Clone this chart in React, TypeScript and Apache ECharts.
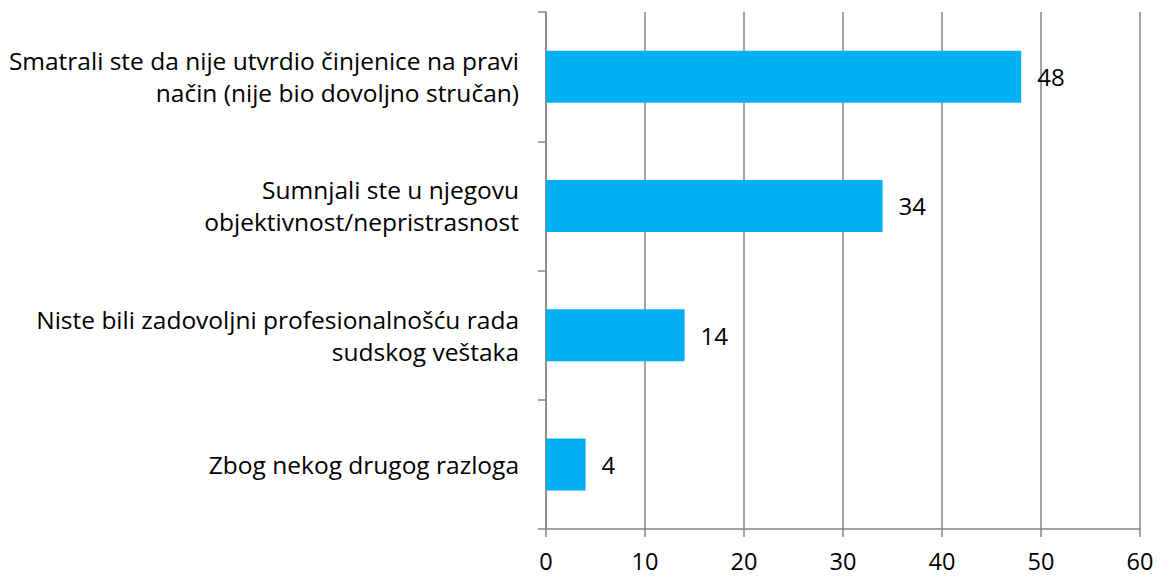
import React, { useEffect, useRef } from "react";
import * as echarts from "echarts";

const categories = [
  "Smatrali ste da nije utvrdio činjenice na pravi\nnačin (nije bio dovoljno stručan)",
  "Sumnjali ste u njegovu\nobjektivnost/nepristrasnost",
  "Niste bili zadovoljni profesionalnošću rada\nsudskog veštaka",
  "Zbog nekog drugog razloga",
];
const values = [48, 34, 14, 4];
const xTicks = [0, 10, 20, 30, 40, 50, 60];

export default function App() {
  const ref = useRef<HTMLDivElement>(null);
  useEffect(() => {
    const chart = echarts.init(ref.current!, null, { renderer: "svg" });
    const font = "'Open Sans', sans-serif";
    chart.setOption({
      animation: false,
      grid: { left: 546, right: 21, top: 12, bottom: 47, containLabel: false },
      xAxis: {
        type: "value",
        min: xTicks[0],
        max: xTicks[xTicks.length - 1],
        interval: 10,
        axisLine: { show: true, lineStyle: { color: "#868686", width: 1.5 } },
        axisTick: { show: true, length: 8, lineStyle: { color: "#868686", width: 1.5 } },
        axisLabel: { color: "#000", fontSize: 23.5, fontFamily: font, margin: 21, lineHeight: 22 },
        splitLine: { show: true, lineStyle: { color: "#868686", width: 1.5 } },
      },
      yAxis: {
        type: "category",
        data: categories,
        inverse: true,
        axisLine: { show: true, lineStyle: { color: "#868686", width: 1.5 } },
        axisTick: { show: true, length: 8, alignWithLabel: false, lineStyle: { color: "#868686", width: 1.5 } },
        axisLabel: {
          color: "#000",
          fontSize: 24.5,
          fontFamily: font,
          margin: 27,
          lineHeight: 32,
          align: "right",
        },
      },
      series: [
        {
          type: "bar",
          data: values,
          barWidth: 52,
          itemStyle: { color: "#00B0F0" },
          label: {
            show: true,
            position: "right",
            distance: 16,
            color: "#000",
            fontSize: 24,
            fontFamily: font,
          },
        },
      ],
    });
    return () => chart.dispose();
  }, []);
  return <div ref={ref} style={{ width: 1161, height: 576, position: "absolute", left: 0, top: 0 }} />;
}
